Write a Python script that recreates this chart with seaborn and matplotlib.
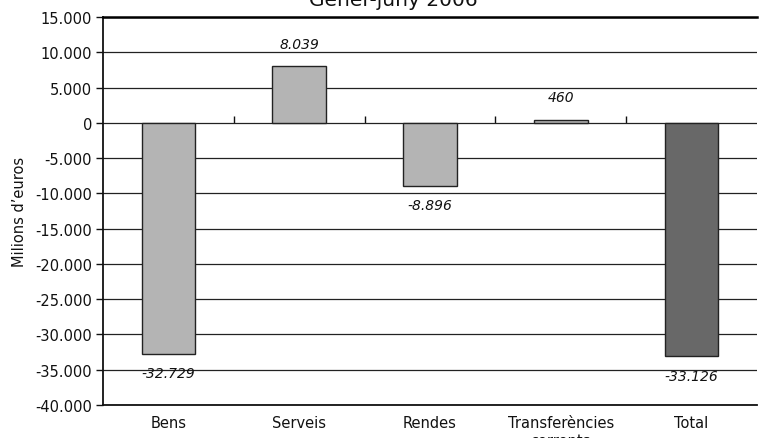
import matplotlib
matplotlib.use('Agg')
import matplotlib.pyplot as plt
import matplotlib.ticker as mticker
import seaborn as sns

categories = ['Bens', 'Serveis', 'Rendes', 'Transferències\ncorrents', 'Total']
values = [-32729, 8039, -8896, 460, -33126]
bar_colors = ['#b4b4b4', '#b4b4b4', '#b4b4b4', '#b4b4b4', '#686868']
title = 'Gener-juny 2006'

sns.set_style('white')
plt.rcParams['font.family'] = ['DejaVu Sans']
plt.rcParams['text.color'] = '#111111'
plt.rcParams['axes.labelcolor'] = '#111111'
plt.rcParams['xtick.color'] = '#111111'
plt.rcParams['ytick.color'] = '#111111'

fig = plt.figure(figsize=(7.59, 4.39), dpi=100)
ax = fig.add_axes([0.1357, 0.0752, 0.8617, 0.8838])

sns.barplot(x=categories, y=values, hue=categories, palette=bar_colors,
            width=0.41, edgecolor='#222222', linewidth=1.0, legend=False,
            saturation=1, ax=ax, zorder=3)

ax.set_ylim(-40000, 15000)
ax.set_xlim(-0.5, 4.5)
ax.set_yticks(range(-40000, 15001, 5000))
ax.yaxis.set_major_formatter(mticker.FuncFormatter(
    lambda v, p: f'{int(v):,}'.replace(',', '.')))
ax.grid(axis='y', color='#222222', linewidth=0.9, zorder=0)
ax.grid(axis='x', visible=False)
ax.set_axisbelow(True)

ax.spines['right'].set_visible(False)
ax.spines['top'].set_linewidth(1.8)
ax.spines['top'].set_color('black')
ax.spines['left'].set_linewidth(1.3)
ax.spines['left'].set_color('#111111')
ax.spines['bottom'].set_linewidth(1.3)
ax.spines['bottom'].set_color('#111111')

ax.tick_params(axis='y', left=True, length=5, width=1,
               labelsize=10.5, pad=3)
ax.tick_params(axis='x', bottom=False, labelsize=10.5, pad=4)
ax.set_xlabel('')
ax.set_ylabel('Milions d’euros', fontsize=10.5, labelpad=6)

# category ticks on the zero line
sec = ax.secondary_xaxis(40000 / 55000)
sec.set_xticks([0.5, 1.5, 2.5, 3.5])
sec.set_xticklabels([])
sec.tick_params(direction='out', length=5, width=1)
sec.spines['bottom'].set_visible(False)
sec.spines['top'].set_visible(False)

for i, v in enumerate(values):
    lab = f'{v:,}'.replace(',', '.')
    off = 16 if v > 0 else -14
    ax.annotate(lab, (i, v), xytext=(0, off), textcoords='offset points',
                ha='center', va='center', fontsize=10, style='italic')

fig.text(0.518, 0.998, title, ha='center', va='center', fontsize=14.5)

fig.savefig('out.png', dpi=100)
